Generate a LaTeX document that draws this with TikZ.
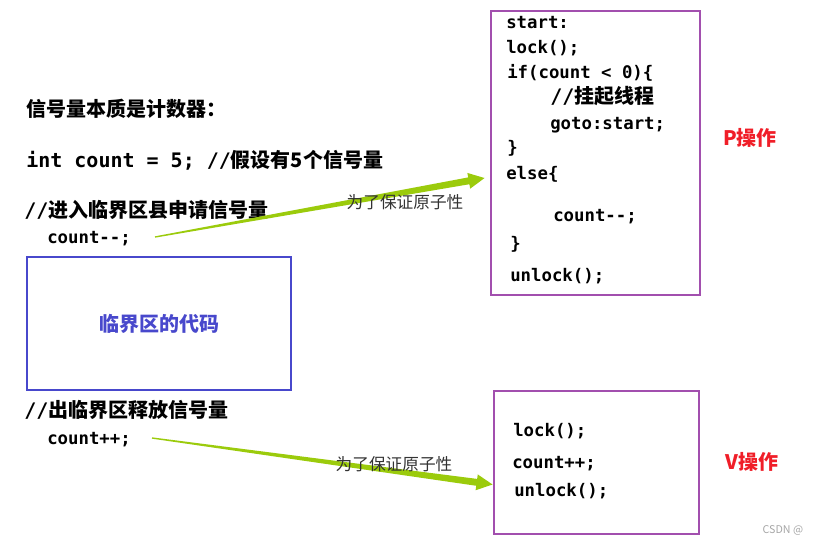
\documentclass[tikz,border=0pt]{standalone}
\usepackage{fontspec}
\setmainfont{Noto Sans CJK SC}
\setmonofont{DejaVu Sans Mono}
\usetikzlibrary{calc, positioning}
\definecolor{cslblue}{HTML}{4848CC}
\definecolor{oppurple}{HTML}{A24FAE}
\definecolor{opred}{HTML}{F01E28}
\definecolor{arrowgreen}{HTML}{9BCB0C}
% tapered green arrow: thin at the tail, wide at the head
\newcommand{\taperarrow}[2]{%
  \coordinate (tb) at ($(#2)!12pt!(#1)$);
  \fill[arrowgreen] ($(#1)!0.5pt!90:(#2)$) -- ($(tb)!2.6pt!90:(#2)$)
    -- ($(tb)!6pt!90:(#2)$) -- (#2) -- ($(tb)!6pt!-90:(#2)$)
    -- ($(tb)!2.6pt!-90:(#2)$) -- ($(#1)!0.5pt!-90:(#2)$) -- cycle;}

\begin{document}
\begin{tikzpicture}[x=0.75pt, y=-0.75pt]
  \tikzset{
    txt/.style={anchor=west, inner sep=0pt, text height=0.8em, text depth=0.2em},
    cn/.style={txt, font=\fontsize{15}{18}\selectfont\bfseries},
    code/.style={txt, font=\fontsize{13}{15}\selectfont\ttfamily\bfseries},
    opbox/.style={draw=oppurple, line width=2.2pt, inner sep=0pt},
    oplabel/.style={text=opred, font=\fontsize{15}{18}\selectfont\bfseries},
    note/.style={text=black!80, font=\fontsize{12.5}{15}\selectfont},
  }
  \useasboundingbox (0,0) rectangle (817,543);

  % left column
  \node[cn] (title) at (26,112) {信号量本质是计数器：};
  \node[cn] (decl) at (26,163) {{\ttfamily int count = 5; //}假设有5个信号量};
  \node[cn] (enter) at (24,213) {{\ttfamily //}进入临界区县申请信号量};
  \node[code] (dec) at (47,239) {count--;};
  \node[draw=cslblue, line width=2.2pt, minimum width=198pt, minimum height=99.75pt,
    inner sep=0pt] (crit) at (159,323.5) {};
  \node[text=cslblue, font=\fontsize{15}{18}\selectfont\bfseries] at (crit) {临界区的代码};
  \node[cn] (leave) at (24,413) {{\ttfamily //}出临界区释放信号量};
  \node[code] (inc) at (47,440) {count++;};

  % P operation
  \node[opbox, minimum width=156.75pt, minimum height=213pt] (pbox) at (595.5,153) {};
  \node[code] (p1) at (506,24) {start:};
  \node[code] (p2) at (506,49) {lock();};
  \node[code] (p3) at (507,74) {if(count < 0)\{};
  \node[cn] (p4) at (550,99) {{\ttfamily //}挂起线程};
  \node[code] (p5) at (550,125) {goto:start;};
  \node[code] (p6) at (507,149) {\}};
  \node[code] (p7) at (506,175) {else\{};
  \node[code] (p8) at (553,217) {count--;};
  \node[code] (p9) at (510,245) {\}};
  \node[code] (p10) at (510,277) {unlock();};
  \node[oplabel] (pop) at (750,138) {P操作};

  % V operation
  \node[opbox, minimum width=153.75pt, minimum height=107.25pt] (vbox) at (596.5,462.5) {};
  \node[code] (v1) at (513,432) {lock();};
  \node[code] (v2) at (512,464) {count++;};
  \node[code] (v3) at (514,492) {unlock();};
  \node[oplabel] (vop) at (752,462) {V操作};

  % arrows
  \coordinate (ptail) at ($(dec.east)+(24,-2)$);
  \coordinate (phead) at ($(pbox.west)+(-5,25)$);
  \taperarrow{ptail}{phead}
  \node[note] (pnote) at (405,202) {为了保证原子性};
  \coordinate (vtail) at ($(inc.east)+(21,-2)$);
  \coordinate (vhead) at ($(vbox.west)+(0,22)$);
  \taperarrow{vtail}{vhead}
  \node[note] (vnote) at (394,464) {为了保证原子性};

  \node[text=black!35, font=\fontsize{8}{10}\selectfont, anchor=west] (mark) at (758,530) {CSDN @};
\end{tikzpicture}
\end{document}
